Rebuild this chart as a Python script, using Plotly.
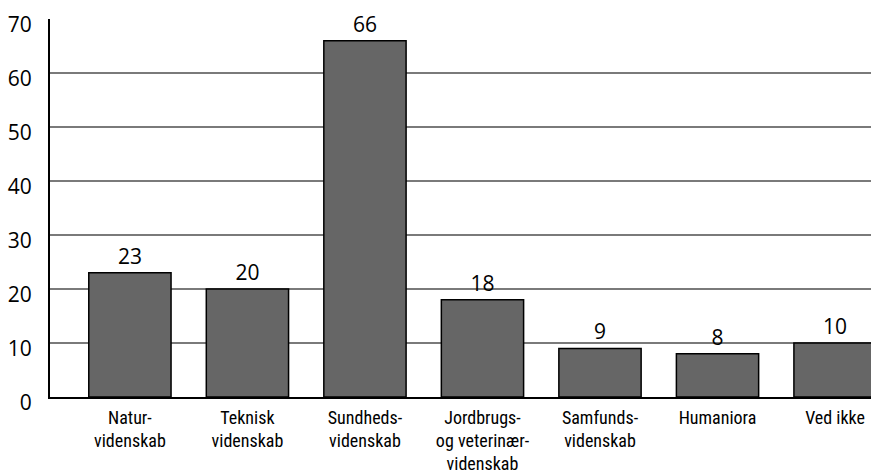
import plotly.graph_objects as go

categories = ["Natur-<br>videnskab", "Teknisk<br>videnskab", "Sundheds-<br>videnskab",
              "Jordbrugs-<br>og veterinær-<br>videnskab", "Samfunds-<br>videnskab",
              "Humaniora", "Ved ikke"]
values = [23, 20, 66, 18, 9, 8, 10]
y_ticks = [0, 10, 20, 30, 40, 50, 60, 70]

num_font = "Open Sans, Noto Sans, sans-serif"
cat_font = "Liberation Sans Narrow, Roboto Condensed, Roboto, sans-serif"

fig = go.Figure(go.Bar(
    x=list(range(len(categories))),
    y=values,
    width=0.7,
    marker=dict(color="#666666", line=dict(color="#000000", width=1.5)),
    text=[str(v) for v in values],
    textposition="outside",
    textfont=dict(family=num_font, size=21, color="#000000"),
    cliponaxis=False,
))

fig.update_layout(
    width=871, height=475,
    margin=dict(l=50, r=0, t=19, b=78, autoexpand=False),
    paper_bgcolor="white", plot_bgcolor="white",
    showlegend=False,
    xaxis=dict(
        range=[-0.68, 6.306],
        tickmode="array",
        tickvals=list(range(len(categories))),
        ticktext=categories,
        tickfont=dict(family=cat_font, size=18, color="#000000"),
        showgrid=False, zeroline=False,
        showline=True, linecolor="#000000", linewidth=2,
        ticks="", ticklabelstandoff=3,
        automargin=False,
    ),
    yaxis=dict(
        range=[0, 70.02],
        tickmode="array",
        tickvals=y_ticks,
        tickfont=dict(family=num_font, size=21, color="#000000"),
        showgrid=True, gridcolor="#7a7a7a", gridwidth=1.5,
        zeroline=False,
        showline=True, linecolor="#000000", linewidth=2,
        ticks="", ticklabelstandoff=12,
        ticklabelshift=6, ticklabeloverflow="allow",
        automargin=False,
    ),
    bargap=0.3,
)

fig.write_html(
    "out.html",
    config={"displayModeBar": False},
    post_script="document.body.style.margin='0';document.body.style.overflow='hidden';",
)
